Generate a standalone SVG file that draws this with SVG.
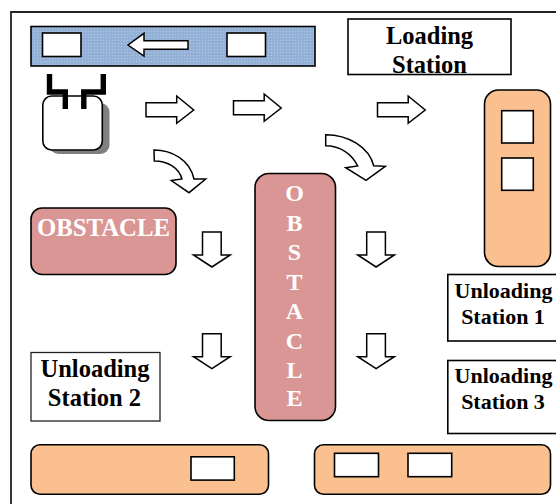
<svg xmlns="http://www.w3.org/2000/svg" width="556" height="504" viewBox="0 0 556 504">
<style>
.ln{stroke:#000;stroke-width:1.6}
.w{fill:#fff}
.o{fill:#fac090}
.p{fill:#d99694}
.t{font-family:"Liberation Serif","Times New Roman",serif;font-weight:bold;text-anchor:middle;fill:#000}
.tw{fill:#fff}
.a{fill:#fff;stroke:#000;stroke-width:1.5;stroke-linejoin:miter}
.g{fill:none;stroke:#000;stroke-width:5.4;stroke-linejoin:miter}
</style>
<defs>
<pattern id="dots" width="3" height="3" patternUnits="userSpaceOnUse">
<rect width="3" height="3" fill="#93b1d6"/>
<rect x="1" y="1" width="1" height="1" fill="#b4c9e2"/>
</pattern>
<path id="right" d="M0 6.7H30.7V0L47.7 14L30.7 27.3V20.7H0Z"/>
<path id="down" d="M9 0H27.7V23H36.7L18.4 35L0 23H9Z"/>
</defs>
<rect width="556" height="504" fill="#fff"/>
<path id="frame" d="M11 504V12H556" fill="none" stroke="#222" stroke-width="1.8"/>
<g id="conveyor-top">
<rect x="31" y="26.5" width="284" height="39.5" fill="url(#dots)" class="ln"/>
<rect x="42.5" y="33" width="38.5" height="23.5" class="w ln"/>
<rect x="227" y="33" width="38.5" height="23.5" class="w ln"/>
</g>
<g id="loading-station">
<rect x="348" y="19" width="163" height="55.5" class="w ln"/>
<text class="t" x="429.500" y="44" font-size="24.5">Loading</text>
<text class="t" x="429.500" y="72.500" font-size="24.5">Station</text>
</g>
<g id="robot">
<rect x="49.5" y="103" width="60" height="51" rx="9" fill="#808080"/>
<rect x="42.8" y="96" width="59.5" height="54" rx="9" class="w ln"/>
<path class="g" d="M49.5 74V92H65.3V109"/>
<path class="g" d="M103.3 74V92H83.8V109"/>
</g>
<g id="station-right">
<rect x="484.5" y="90" width="66" height="176.5" rx="14" class="o ln"/>
<rect x="501.7" y="110.7" width="31.6" height="32.3" class="w ln"/>
<rect x="501.7" y="158" width="31.6" height="32.3" class="w ln"/>
</g>
<g id="obstacle-left">
<rect x="31" y="208" width="145" height="66.5" rx="11" class="p ln"/>
<text class="t tw" x="103.500" y="235.500" font-size="24.8">OBSTACLE</text>
</g>
<g id="obstacle-center">
<rect x="255" y="173.5" width="80.5" height="247" rx="14" class="p ln"/>
<g class="t" font-size="24">
<text class="tw" x="294.500" y="201">O</text>
<text class="tw" x="294.500" y="230.500">B</text>
<text class="tw" x="294.500" y="260">S</text>
<text class="tw" x="294.500" y="289.500">T</text>
<text class="tw" x="294.500" y="319">A</text>
<text class="tw" x="294.500" y="348.500">C</text>
<text class="tw" x="294.500" y="377.500">L</text>
<text class="tw" x="294.500" y="406">E</text>
</g>
</g>
<g id="unloading-1">
<rect x="447.8" y="274.5" width="120" height="66.5" class="w ln"/>
<text class="t" x="503.500" y="297.500" font-size="22">Unloading</text>
<text class="t" x="503" y="323.500" font-size="22">Station 1</text>
</g>
<g id="unloading-3">
<rect x="447.8" y="360.5" width="120" height="73" class="w ln"/>
<text class="t" x="503.500" y="383" font-size="22">Unloading</text>
<text class="t" x="503" y="409" font-size="22">Station 3</text>
</g>
<g id="unloading-2">
<rect x="31" y="352.5" width="129" height="68.5" class="w" stroke="#222" stroke-width="1.3"/>
<text class="t" x="95" y="377" font-size="24.5">Unloading</text>
<text class="t" x="94.500" y="406" font-size="24.5">Station 2</text>
</g>
<g id="conveyor-bottom-left">
<rect x="31" y="444.8" width="237.5" height="49.5" rx="9" class="o ln"/>
<rect x="191" y="456.8" width="43.3" height="23.3" class="w ln"/>
</g>
<g id="conveyor-bottom-right">
<rect x="314.5" y="444.8" width="236" height="49.5" rx="9" class="o ln"/>
<rect x="334.5" y="453.3" width="44" height="23.4" class="w ln"/>
<rect x="408" y="453.3" width="43.7" height="23.4" class="w ln"/>
</g>
<g id="connectors">
<path class="a" d="M188 40.7V49.3H144V56L128 45L144 33.3V40.7Z"/>
<use href="#right" class="a" x="146" y="96"/>
<use href="#right" class="a" x="233.5" y="94"/>
<use href="#right" class="a" x="377.5" y="96"/>
<use href="#down" class="a" x="193.5" y="232"/>
<use href="#down" class="a" x="193.5" y="333.7"/>
<use href="#down" class="a" x="357.7" y="232"/>
<use href="#down" class="a" x="357.7" y="333.7"/>
<path class="a" d="M154 150C172 150 190 160 194 179H205.7L189 192.7L171.3 180.5L182 179C179 168 168 161 154.3 161Z"/>
<path class="a" d="M325.7 134.7C348 134.7 369 147 373.7 165.7L385.3 166.3L366 180.3L345.700 167.700L357.7 166C352 154 340 145.700 325.700 145.700Z"/>
</g>
</svg>
